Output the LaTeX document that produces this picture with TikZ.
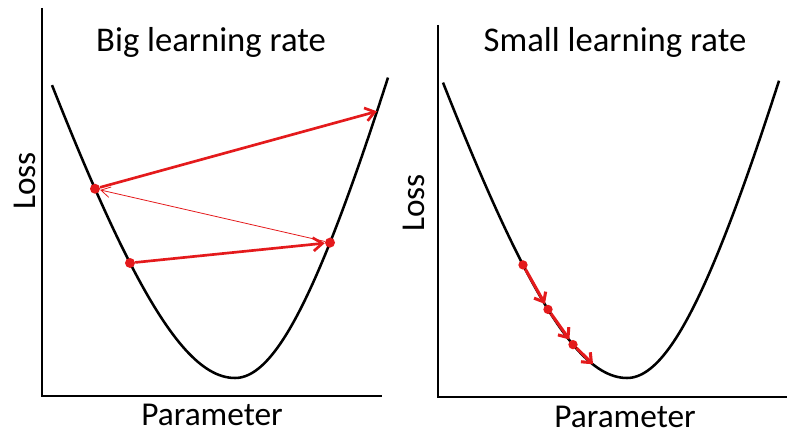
\documentclass[tikz,border=0pt]{standalone}
\usepackage{fontspec}
\setmainfont{Carlito}
\usetikzlibrary{arrows.meta}
\definecolor{stepred}{RGB}{228,26,28}

\begin{document}
\begin{tikzpicture}[x=0.75pt,y=0.75pt,
  axisline/.style={line width=2pt},
  losscurve/.style={line width=1.9pt},
  title/.style={font=\fontsize{26}{30}\selectfont,anchor=base},
  axlabel/.style={font=\fontsize{25}{30}\selectfont,anchor=base},
  dot/.style={circle,fill=stepred,inner sep=0pt,minimum size=7.5pt},
  smalldot/.style={dot,minimum size=7pt},
  jump/.style={stepred,line width=2pt,-{Straight Barb[length=7pt,width=10pt]}},
  backjump/.style={stepred,line width=0.6pt,-{Straight Barb[length=7pt,width=8pt]}},
  creep/.style={stepred,line width=2.3pt,-{Straight Barb[length=6pt,width=10pt]},shorten >=1pt},
  declare function={
    lossl(\d)=57+31*(sqrt((\d/10)^2+169)-13);
    lossr(\d)=57+38.3*(sqrt((\d/10)^2+121)-11);
  }]
  \useasboundingbox (0,0) rectangle (787,435);

  % big learning rate
  \draw[axisline] (42,427) -- (42,39) -- (382,39);
  \draw[losscurve] plot[domain=52:235,samples=60] (\x,{lossl(\x-235)})
    -- plot[domain=235:388,samples=60] (\x,{lossr(\x-235)});
  \node[title] (titleL) at (211,383) {Big learning rate};
  \node[axlabel,rotate=90] (lossL) at (35,254) {Loss};
  \node[axlabel] (paramL) at (212,10) {Parameter};
  \node[dot] (c) at (130,{lossl(130-235)}) {};
  \node[dot] (b) at (330,{lossr(330-235)}) {};
  \node[dot] (a) at (95,{lossl(95-235)}) {};
  \coordinate (d) at (377,{lossr(377-235)});
  \draw[jump] (c) -- (b);
  \draw[backjump] (b) -- (a);
  \draw[jump] (a) -- (d);

  % small learning rate
  \draw[axisline] (438,410) -- (438,38) -- (787,38);
  \draw[losscurve] plot[domain=443:627,samples=60] (\x,{lossl(\x-627)})
    -- plot[domain=627:779,samples=60] (\x,{lossr(\x-627)});
  \node[title] (titleR) at (615,383) {Small learning rate};
  \node[axlabel,rotate=90] (lossR) at (424,232) {Loss};
  \node[axlabel] (paramR) at (625,8) {Parameter};
  \node[smalldot] (p1) at (523,{lossl(523-627)}) {};
  \node[smalldot] (p2) at (548,{lossl(548-627)}) {};
  \node[smalldot] (p3) at (573,{lossl(573-627)}) {};
  \coordinate (p4) at (594,{lossl(594-627)});
  \draw[creep] (p1) -- (p2);
  \draw[creep] (p2) -- (p3);
  \draw[creep] (p3) -- (p4);
\end{tikzpicture}
\end{document}
